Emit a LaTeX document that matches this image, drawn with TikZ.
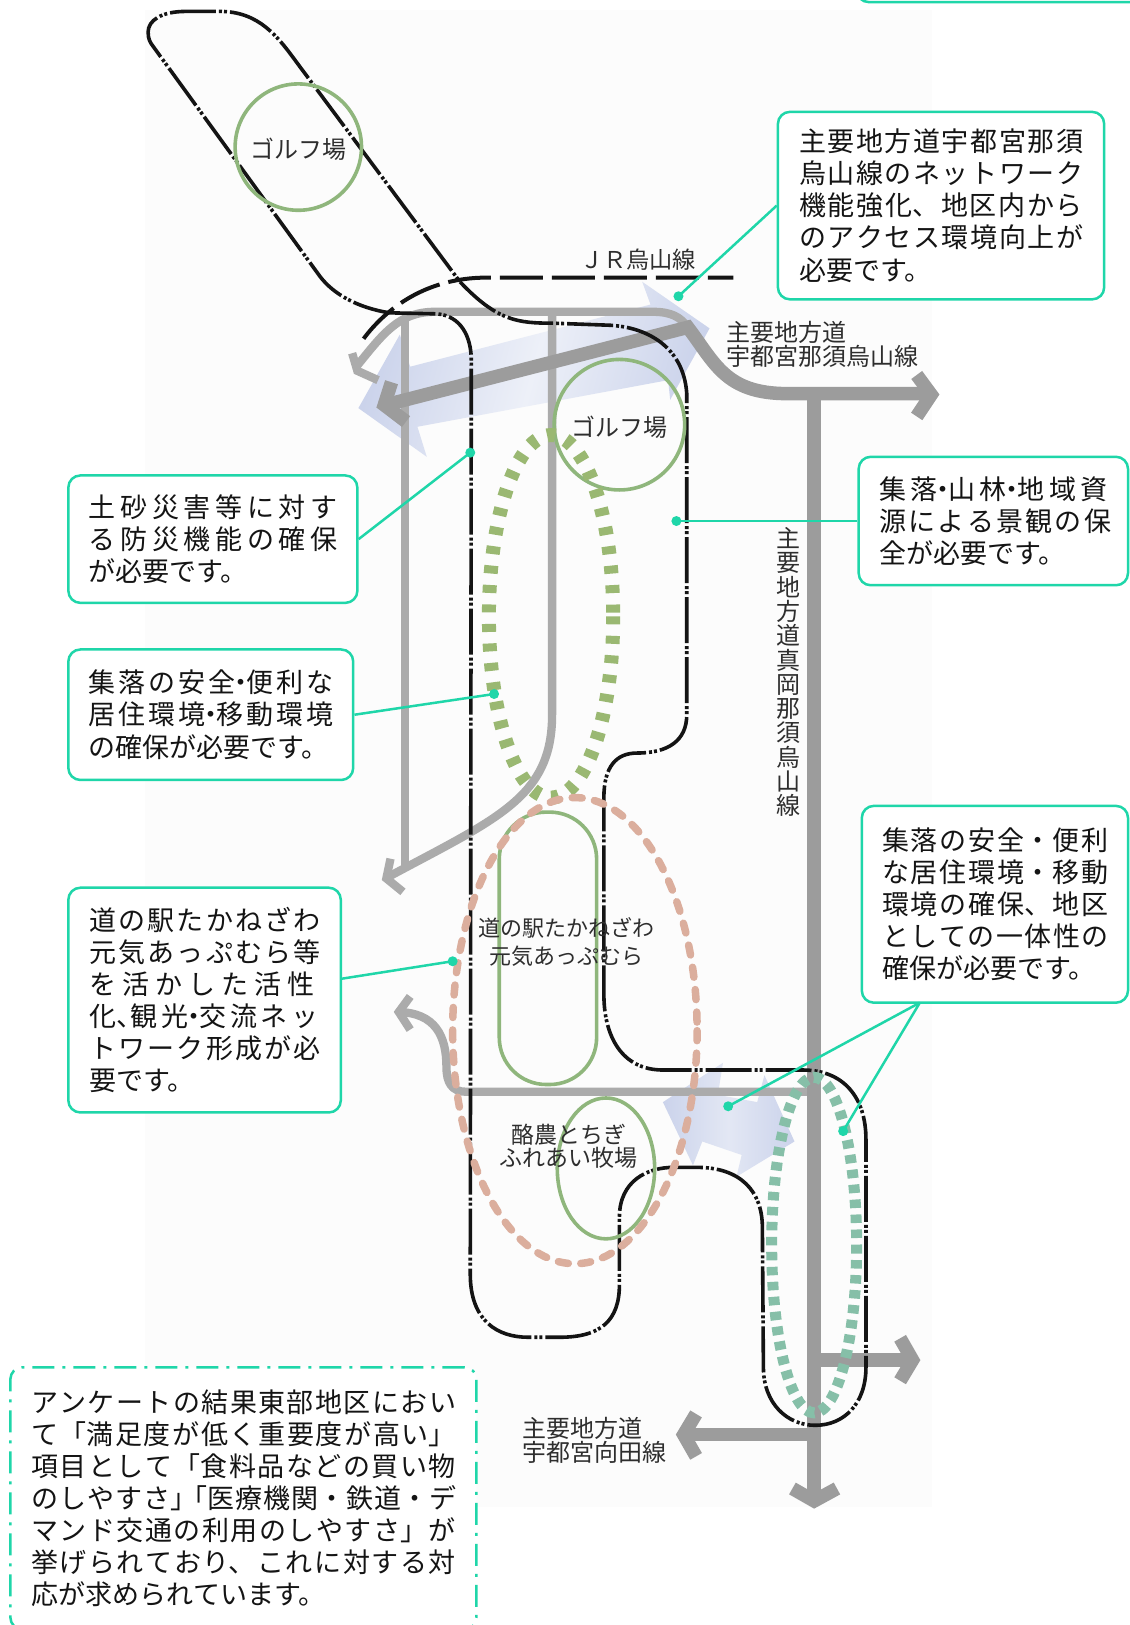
\documentclass[tikz,border=0pt]{standalone}
\usepackage{fontspec}
\setmainfont{Noto Sans CJK JP}
\XeTeXlinebreaklocale "ja"
\XeTeXlinebreakskip=0pt plus 3em
\tolerance=10000
\hbadness=10000
\hfuzz=15pt
\newcommand\lastl{\parfillskip=0pt plus 1fil\relax}
\newcommand\boxfont{\fontsize{27}{32.1}\selectfont\parfillskip=0pt\relax}
\newcommand\pf[1]{\parfillskip=-#1pt\relax}
\newcommand\nd{\hspace{-.3em}・\hspace{-.3em}}
\newcommand\ncm{、\hspace{-.45em}}
\definecolor{teal1}{HTML}{1FD6A9}
\definecolor{road}{HTML}{9C9C9C}
\definecolor{roadt}{HTML}{ABABAB}
\definecolor{golf}{HTML}{8FB67C}
\definecolor{olive}{HTML}{9AB872}
\definecolor{salmon}{HTML}{DBAE9D}
\definecolor{tealdash}{HTML}{86BFA8}
\definecolor{labelc}{HTML}{2E2E2E}
\definecolor{blueend}{HTML}{CBD3EB}
\definecolor{bluemid}{HTML}{EDF0F8}
\tikzset{
 notebox/.style={draw=teal1,line width=2.5pt,rounded corners=12pt,fill=white,inner sep=0pt,font=\boxfont,text=black!92},
 dashbox/.style={notebox,dash pattern=on 22pt off 8pt on 3pt off 8pt},
 dot/.style={circle,fill=teal1,inner sep=0pt,minimum size=10pt},
 conn/.style={draw=teal1,line width=2.5pt},
 lab/.style={font=\fontsize{24}{24.3}\selectfont,text=labelc,inner sep=0pt,align=left},
 blackline/.style={draw=black!92,line width=3.6pt,dash pattern=on 46pt off 3pt on 3pt off 2pt on 3pt off 3pt},
 jrline/.style={draw=black!92,line width=4pt,dash pattern=on 43pt off 9pt},
 bigroad/.style={draw=road,line width=13.5pt},
 thinroad/.style={draw=roadt,line width=8.3pt},
 golfc/.style={draw=golf,line width=3.6pt},
}
\begin{document}
\begin{tikzpicture}[x=1.0358pt,y=-1.0358pt]
\useasboundingbox (0,0) rectangle (1090,1568.8);
\fill[white] (0,0) rectangle (1090,1568.8);
\fill[black!1] (140,10) rectangle (900,1455);
% blue arrows
\shade[left color=blueend,right color=blueend,middle color=bluemid,shading angle=75] (685,317)--(620,272)--(628,294)--(396,354)--(386,323)--(346,394)--(412,441)--(403,412)--(645,367)--(647,386)--cycle;
\shade[left color=blueend,right color=blueend,middle color=bluemid!70!blueend] (640,1064)--(698,1026)--(693,1057)--(731,1064)--(738,1038)--(767,1102)--(711,1136)--(716,1115)--(678,1102)--(669,1125)--cycle;
% thin roads
\draw[thinroad] (344,354) .. controls (370,322) and (385,301) .. (420,301) -- (630,301) .. controls (648,301) and (657,306) .. (664,316);
\draw[thinroad,miter limit=10] (340,341)--(345,358)--(365,367);
\draw[thinroad] (391,305)--(391,836);
\draw[thinroad] (533,301)--(533,690) .. controls (533,770) and (480,790) .. (374,847);
\draw[thinroad,miter limit=10] (377,829)--(373,848)--(389,861);
\draw[thinroad] (786,1054)--(450,1054) .. controls (436,1054) and (431,1045) .. (431,1030) .. controls (431,1000) and (420,978) .. (385,977);
\draw[thinroad,miter limit=10] (396,962)--(385,977)--(396,994);
% thick roads
\draw[bigroad] (372,391)--(664,316) .. controls (690,350) and (700,380) .. (760,380)--(898,380);
\draw[bigroad,miter limit=10] (378,369)--(371,391)--(392,407);
\draw[bigroad,miter limit=10] (885,362)--(899,381)--(885,402);
\draw[bigroad] (786,380)--(786,1450);
\draw[bigroad,miter limit=10] (765,1437)--(786,1449)--(808,1437);
\draw[bigroad] (786,1313)--(880,1313);
\draw[bigroad,miter limit=10] (869,1292)--(881,1313)--(869,1333);
\draw[bigroad] (786,1385)--(660,1385);
\draw[bigroad,miter limit=10] (672,1365)--(660,1385)--(672,1406);
% JR line
\draw[jrline] (351,327) .. controls (372,299) and (410,268) .. (470,268) -- (708,268);
% district boundary
\draw[blackline] (376,302)--(422,303) .. controls (445,305) and (455,325) .. (455,348) -- (454,1230) .. controls (454,1275) and (480,1291) .. (510,1291) -- (540,1291) .. controls (580,1291) and (598,1275) .. (598,1240) -- (598,1175) .. controls (598,1140) and (625,1127) .. (650,1127) -- (673,1127) .. controls (715,1127) and (736,1150) .. (736,1185) -- (737,1320) .. controls (737,1355) and (760,1376) .. (787,1376) .. controls (815,1376) and (836,1355) .. (836,1320) -- (836,1100) .. controls (836,1060) and (815,1033) .. (775,1033) -- (640,1033) .. controls (600,1033) and (583,1000) .. (583,960) -- (583,770) .. controls (583,740) and (595,727) .. (615,727) .. controls (645,727) and (663,715) .. (663,690) -- (663,380) .. controls (660,335) and (625,316) .. (589,314) -- (534,312) .. controls (500,312) and (480,310) .. (444,272) -- (287,61) .. controls (268,35) and (250,11) .. (212,11) -- (180,11) .. controls (155,11) and (143,20) .. (143,31) .. controls (143,38) and (145,41) .. (148,45) -- (309,267) .. controls (322,284) and (345,297) .. (376,302);
% golf / facility shapes
\draw[golfc] (288,142) circle[radius=61];
\draw[golfc] (598,410) circle[radius=63];
\draw[golfc,rounded corners=47pt] (482,784) rectangle (576,1047);
\draw[golfc] (585,1128) ellipse[x radius=47,y radius=68];
% dashed ellipses
\draw[draw=olive,line width=14pt,dash pattern=on 8pt off 11.5pt] (532,595) ellipse[x radius=60,y radius=175];
\draw[draw=salmon,line width=7.5pt,line cap=round,dash pattern=on 10pt off 12.5pt] (555,995) ellipse[x radius=118,y radius=225];
\draw[draw=tealdash,line width=11pt,dash pattern=on 8.5pt off 6.5pt] (786,1202) ellipse[x radius=41,y radius=162];
% labels
\node[lab] (golf1) at (288,144) {ゴルフ場};
\node[lab] (golf2) at (598,412) {ゴルフ場};
\node[lab,font=\fontsize{23.2}{24}\selectfont] (jrl) at (616,251) {ＪＲ烏山線};
\node[lab,anchor=north west] (r1) at (701,310) {主要地方道\\宇都宮那須烏山線};
\node[lab,anchor=north west] (r2) at (504,1368) {主要地方道\\宇都宮向田線};
\node[lab,align=center,anchor=north] (r3) at (761,509) {主\\要\\地\\方\\道\\真\\岡\\那\\須\\烏\\山\\線};
\node[lab,align=center,font=\fontsize{22}{28}\selectfont] (m1) at (547,909) {道の駅たかねざわ\\元気あっぷむら};
\node[lab,align=center,font=\fontsize{23}{23}\selectfont] (m2) at (549,1107) {酪農とちぎ\\ふれあい牧場};
% note boxes
\node[notebox,minimum width=315*1.0358pt,minimum height=181*1.0358pt,text width=274*1.0358pt] (A) at (908.5,198.5) {\pf{3}主要地方道宇都宮那須\par 烏山線のネットワーク\par 機能強化、地区内から\par のアクセス環境向上が\par\lastl 必要です。\par};
\node[notebox,minimum width=279*1.0358pt,minimum height=123*1.0358pt,text width=240*1.0358pt] (B) at (205.5,520.5) {\pf{9}土砂災害等に対す\par る防災機能の確保\par\lastl が必要です。\par};
\node[notebox,minimum width=275*1.0358pt,minimum height=126*1.0358pt,text width=236*1.0358pt] (C) at (203.5,690) {\pf{6}集落の安全\nd 便利な\par 居住環境\nd 移動環境\par\lastl の確保が必要です。\par};
\node[notebox,minimum width=263*1.0358pt,minimum height=217*1.0358pt,text width=223*1.0358pt] (D) at (197.5,965.5) {\pf{5}道の駅たかねざわ\par 元気あっぷむら等\par を活かした活性\par 化\ncm 観光\nd 交流ネッ\par トワーク形成が必\par\lastl 要です。\par};
\node[notebox,minimum width=260*1.0358pt,minimum height=124*1.0358pt,text width=220*1.0358pt] (E) at (959,503) {\pf{8}集落\nd 山林\nd 地域資\par 源による景観の保\par\lastl 全が必要です。\par};
\node[notebox,minimum width=257*1.0358pt,minimum height=190*1.0358pt,text width=218*1.0358pt] (F) at (960.5,873) {\pf{4}集落の安全・便利\par な居住環境・移動\par 環境の確保、地区\par としての一体性の\par\lastl 確保が必要です。\par};
\node[dashbox,minimum width=450*1.0358pt,minimum height=253*1.0358pt,text width=410*1.0358pt] (G) at (235,1446.5) {\pf{3}アンケートの結果東部地区におい\par て「満足度が低く重要度が高い」\par 項目として「食料品などの買い物\par のしやすさ」\hspace{-.6em}「医療機関・鉄道・デ\par マンド交通の利用のしやすさ」が\par 挙げられており、これに対する対\par\lastl 応が求められています。\par};
\node[notebox,minimum width=300*1.0358pt,minimum height=60*1.0358pt] (top) at (977,-28) {};
% connectors
\node[dot] (dA) at (655,286) {};
\node[dot] (dB) at (454,437) {};
\node[dot] (dC) at (477,670) {};
\node[dot] (dD) at (437,928) {};
\node[dot] (dE) at (653,503) {};
\node[dot] (dF1) at (703,1068) {};
\node[dot] (dF2) at (814,1092) {};
\coordinate (Ff) at (888,968);
\draw[conn] (A.west) -- (dA.center);
\draw[conn] (B.east) -- (dB.center);
\draw[conn] (C.east) -- (dC.center);
\draw[conn] (329,945) -- (dD.center);
\draw[conn] (E.west) -- (dE.center);
\draw[conn] (Ff) -- (dF1.center);
\draw[conn] (Ff) -- (dF2.center);
\end{tikzpicture}
\end{document}
